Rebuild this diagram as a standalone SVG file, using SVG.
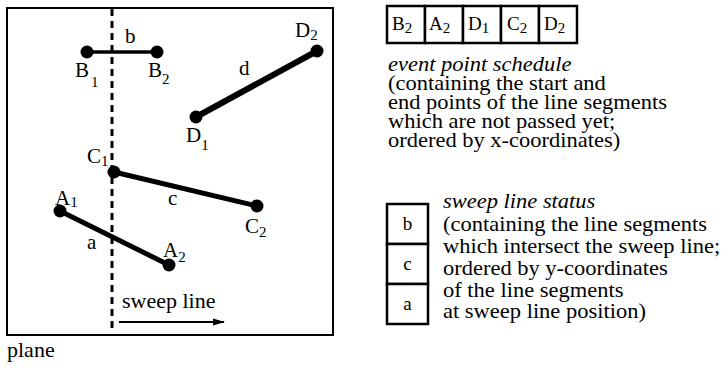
<svg xmlns="http://www.w3.org/2000/svg" width="722" height="368" viewBox="0 0 722 368">
<style>
.t{font-family:"Liberation Serif","Times New Roman",serif;font-size:22px;fill:#000}
.it{font-style:italic}
.lb{font-size:21px}
.sb{font-size:15px}
.bx{font-size:19px}
.bd{font-size:20px}
.seg{stroke:#000;stroke-linecap:round;fill:none}
.dot{fill:#000}
.box{fill:#fff;stroke:#000;stroke-width:2.5}
</style>
<defs>
<marker id="ah" markerWidth="12" markerHeight="8" refX="11" refY="4" orient="auto" markerUnits="userSpaceOnUse">
<path d="M0,0.5 L12,4 L0,7.5 Z" fill="#000"/>
</marker>
</defs>
<rect width="722" height="368" fill="#fff"/>

<g id="plane">
<rect x="7" y="8" width="326" height="327" fill="none" stroke="#000" stroke-width="2"/>
<text class="t" x="7" y="357">plane</text>
</g>

<g id="sweep-line">
<line x1="112" y1="9" x2="112" y2="328" stroke="#000" stroke-width="3" stroke-dasharray="7,5"/>
<text class="t" x="122" y="308">sweep line</text>
</g>

<g id="connectors">
<line x1="119" y1="322" x2="224" y2="322" stroke="#000" stroke-width="2" marker-end="url(#ah)"/>
</g>

<g id="seg-b">
<line class="seg" x1="87" y1="52" x2="157" y2="52" stroke-width="3.5"/>
<circle class="dot" cx="87" cy="52" r="6.5"/>
<circle class="dot" cx="157" cy="52" r="6.5"/>
<text class="t lb" x="125" y="43">b</text>
<text class="t lb" x="75" y="77">B<tspan class="sb" dx="2" dy="10">1</tspan></text>
<text class="t lb" x="148" y="77">B<tspan class="sb" dy="7">2</tspan></text>
</g>

<g id="seg-d">
<line class="seg" x1="196" y1="117" x2="317" y2="51" stroke-width="6"/>
<circle class="dot" cx="196" cy="117" r="6.5"/>
<circle class="dot" cx="317" cy="51" r="6.5"/>
<text class="t lb" x="239" y="75">d</text>
<text class="t lb" x="295" y="37">D<tspan class="sb" dy="3">2</tspan></text>
<text class="t lb" x="186" y="142">D<tspan class="sb" dy="8">1</tspan></text>
</g>

<g id="seg-c">
<line class="seg" x1="114" y1="172" x2="257" y2="206" stroke-width="5"/>
<circle class="dot" cx="114" cy="172" r="6.5"/>
<circle class="dot" cx="257" cy="206" r="6.5"/>
<text class="t lb" x="168" y="205">c</text>
<text class="t lb" x="87" y="163">C<tspan class="sb" dy="3">1</tspan></text>
<text class="t lb" x="245" y="233">C<tspan class="sb" dy="4">2</tspan></text>
</g>

<g id="seg-a">
<line class="seg" x1="60" y1="211" x2="169" y2="265" stroke-width="5"/>
<circle class="dot" cx="60" cy="211" r="6.5"/>
<circle class="dot" cx="169" cy="265" r="6.5"/>
<text class="t lb" x="87" y="249">a</text>
<text class="t lb" x="55" y="205">A<tspan class="sb" dy="2">1</tspan></text>
<text class="t lb" x="163" y="257">A<tspan class="sb" dy="5">2</tspan></text>
</g>

<g id="event-point-schedule">
<rect class="box" x="387" y="6" width="38" height="37"/>
<rect class="box" x="425" y="6" width="38" height="37"/>
<rect class="box" x="463" y="6" width="38" height="37"/>
<rect class="box" x="501" y="6" width="38" height="37"/>
<rect class="box" x="539" y="6" width="38" height="37"/>
<text class="t bx" x="392" y="30">B<tspan class="sb" dy="3">2</tspan></text>
<text class="t bx" x="429" y="30">A<tspan class="sb" dy="3">2</tspan></text>
<text class="t bx" x="468" y="30">D<tspan class="sb" dy="3">1</tspan></text>
<text class="t bx" x="507" y="30">C<tspan class="sb" dy="3">2</tspan></text>
<text class="t bx" x="544" y="30">D<tspan class="sb" dy="3">2</tspan></text>
<g transform="translate(388,0) scale(1.125,1)">
<text class="t bd"><tspan class="it" x="0" y="71">event point schedule</tspan><tspan x="0" y="90">(containing the start and</tspan><tspan x="0" y="109">end points of the line segments</tspan><tspan x="0" y="128">which are not passed yet;</tspan><tspan x="0" y="147">ordered by x-coordinates)</tspan></text>
</g>
</g>

<g id="sweep-line-status">
<rect class="box" x="387" y="204" width="41" height="40"/>
<rect class="box" x="387" y="244" width="41" height="40"/>
<rect class="box" x="387" y="284" width="41" height="40"/>
<text class="t bx" x="407.5" y="230" text-anchor="middle">b</text>
<text class="t bx" x="407.5" y="270" text-anchor="middle">c</text>
<text class="t bx" x="407.5" y="310" text-anchor="middle">a</text>
<g transform="translate(443,0) scale(1.125,1)">
<text class="t bd it" x="0" y="208">sweep line status</text>
<text class="t bd" x="0" y="231">(containing the line segments</text>
<text class="t bd" x="0" y="253">which intersect the sweep line;</text>
<text class="t bd" x="0" y="275">ordered by y-coordinates</text>
<text class="t bd" x="0" y="297">of the line segments</text>
<text class="t bd" x="0" y="318">at sweep line position)</text>
</g>
</g>
</svg>
